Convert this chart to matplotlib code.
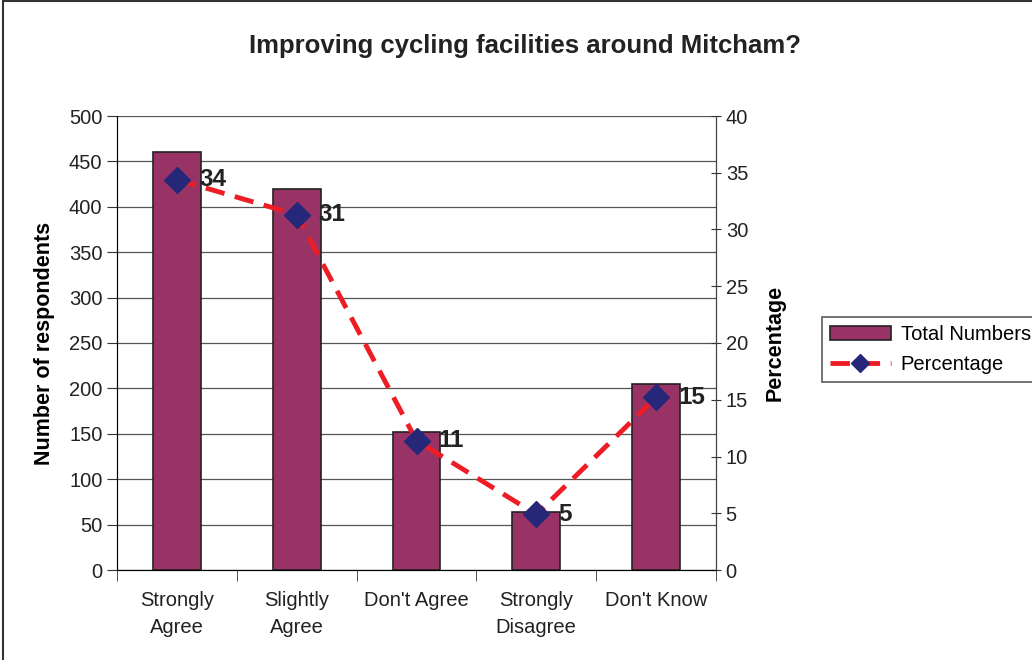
import matplotlib
matplotlib.use("Agg")
import matplotlib.pyplot as plt
from matplotlib.patches import Rectangle

plt.rcParams['font.family'] = ['Liberation Sans', 'DejaVu Sans']

categories = ["Strongly\nAgree", "Slightly\nAgree", "Don't Agree", "Strongly\nDisagree", "Don't Know"]
total_numbers = [460, 420, 152, 64, 205]
percentage = [34.4, 31.3, 11.4, 4.9, 15.2]
pct_labels = ["34", "31", "11", "5", "15"]

fig = plt.figure(figsize=(10.32, 6.6), dpi=100)
ax = fig.add_axes([117 / 1032, 1 - 570 / 660, (716 - 117) / 1032, (570 - 116) / 660])
ax2 = ax.twinx()

x = list(range(len(categories)))
bars = ax.bar(x, total_numbers, width=0.4, color='#993366', edgecolor='#222222',
              linewidth=1.2, zorder=2, label='Total Numbers')
ax.set_xlim(-0.5, 4.5)
ax.set_ylim(0, 500)
ax.set_yticks(range(0, 501, 50))
ax.grid(axis='y', color='#555555', linewidth=0.9, zorder=0)
ax.set_axisbelow(True)
ax.set_xticks(x)
ax.set_xticklabels(categories, fontsize=14.5, color='#222222', linespacing=1.55)
ax.tick_params(axis='x', length=0, pad=15)
ax.set_xticks([i + 0.5 for i in range(-1, 5)], minor=True)
ax.tick_params(axis='x', which='minor', length=8, direction='out', color='#333333')
ax.tick_params(axis='y', labelsize=14.5, length=7, direction='out', color='#333333', labelcolor='#222222')
ax.set_ylabel("Number of respondents", fontsize=15.5, fontweight='bold', labelpad=10)
for s in ['top']:
    ax.spines[s].set_visible(False)
    ax2.spines[s].set_visible(False)
ax.spines['left'].set_color('#444444')
ax.spines['bottom'].set_color('#444444')
ax2.spines['right'].set_color('#444444')

line, = ax2.plot(x, percentage, color='#ee1c24', linewidth=3.5, dashes=(4, 2.2),
                 marker='D', markersize=13, markerfacecolor='#27277a',
                 markeredgecolor='#27277a', zorder=3, label='Percentage')
ax2.set_ylim(0, 40)
ax2.set_yticks(range(0, 41, 5))
ax2.tick_params(axis='y', labelsize=14.5, length=7, direction='inout', color='#333333', labelcolor='#222222')
ax2.set_ylabel("Percentage", fontsize=15.5, fontweight='bold', labelpad=12)
for xi, p, lab in zip(x, percentage, pct_labels):
    ax2.annotate(lab, (xi, p), xytext=(16, 0), textcoords='offset points',
                 fontsize=17.5, fontweight='bold', color='#222222', va='center', ha='left')

fig.suptitle("Improving cycling facilities around Mitcham?", fontsize=18.5, fontweight='bold',
             x=525 / 1032, y=1 - 46 / 660, va='center', color='#222222')

leg = fig.legend(handles=[bars, line], loc='upper left', bbox_to_anchor=(812 / 1032, 1 - 307 / 660),
                 fontsize=14.5, frameon=True, fancybox=False, edgecolor='#333333',
                 handlelength=3.0, handletextpad=0.5, borderpad=0.4, labelspacing=0.55)
leg.get_frame().set_linewidth(1.2)
leg.legend_handles[1].set_markersize(9)

# outer border of chart area
fig.patches.append(Rectangle((3 / 1032, -0.1), 1.2, 1.1 - 1 / 660, transform=fig.transFigure,
                             fill=False, edgecolor='#333333', linewidth=1.5))

fig.savefig("out.png", dpi=100)
